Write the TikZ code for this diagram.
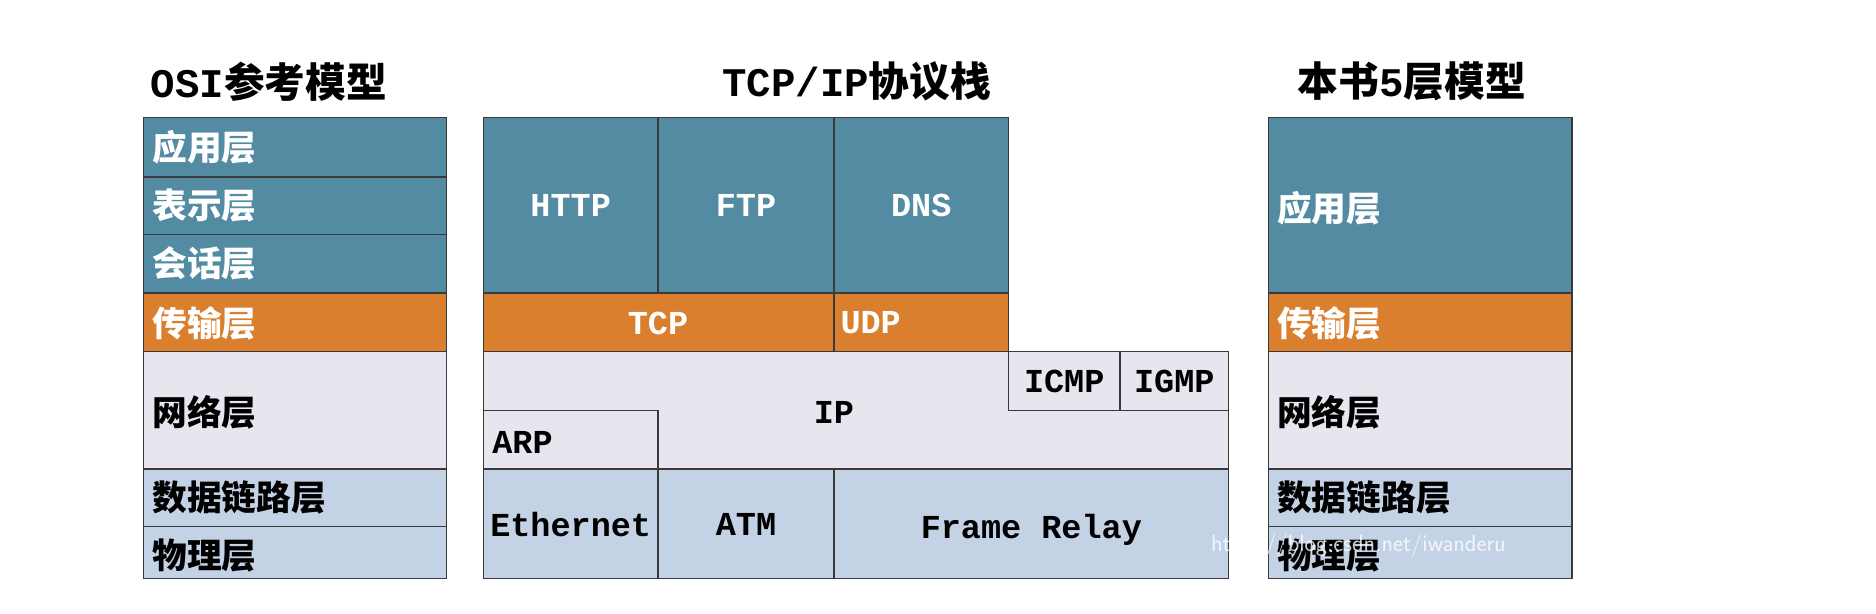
\documentclass[tikz,border=0pt]{standalone}
\usepackage{fontspec}
\setmainfont{Liberation Mono}
\newfontfamily\cjk{Noto Sans CJK SC}
\definecolor{teal}{HTML}{528BA2}
\definecolor{orng}{HTML}{D97F2E}
\definecolor{lav}{HTML}{E8E5EE}
\definecolor{lblue}{HTML}{C4D2E6}
\definecolor{edge}{HTML}{3A3A3A}
\tikzset{
  cell/.style={draw=edge,line width=1.2pt,inner sep=0pt},
  lbl/.style={font=\fontsize{28}{30}\selectfont\bfseries},
  clbl/.style={font=\cjk\fontsize{29}{32}\selectfont\bfseries},
  title/.style={font=\fontsize{34}{36}\selectfont\bfseries},
}
% \mycell{name}{x1}{y1}{x2}{y2}{fill}
\newcommand{\mycell}[6]{\path[cell,fill=#6] (#2pt,-#3pt) rectangle (#4pt,-#5pt);
  \coordinate (#1-nw) at (#2pt,-#3pt); \coordinate (#1-c) at ({(#2+#4)/2*1pt},{-(#3+#5)/2*1pt});}
\begin{document}
\begin{tikzpicture}
\useasboundingbox[fill=white] (0,0) rectangle (1568pt,-513pt);
% titles
\node[title,anchor=west,inner sep=0pt] (t1) at (126pt,-68pt) {OSI{\cjk 参考模型}};
\node[title,inner sep=0pt] (t2) at (716pt,-68pt) {TCP/IP{\cjk 协议栈}};
\node[title,inner sep=0pt] (t3) at (1180pt,-68pt) {{\cjk 本书}5{\cjk 层模型}};
% OSI
\mycell{o1}{120}{98}{373}{148}{teal}
\mycell{o2}{120}{148}{373}{196}{teal}
\mycell{o3}{120}{196}{373}{245}{teal}
\mycell{o4}{120}{245}{373}{294}{orng}
\mycell{o5}{120}{294}{373}{392}{lav}
\mycell{o6}{120}{392}{373}{440}{lblue}
\mycell{o7}{120}{440}{373}{484}{lblue}
\foreach \n/\y/\t/\c in {n1/123/应用层/white,n2/172/表示层/white,n3/220/会话层/white,n4/270/传输层/white,n5/345/网络层/black,n6/416/数据链路层/black,n7/464/物理层/black}
  \node[clbl,text=\c,anchor=west] (\n) at (124pt,-\y pt) {\t};
% TCP/IP
\mycell{http}{404}{98}{550}{245}{teal}
\mycell{ftp}{550}{98}{697}{245}{teal}
\mycell{dns}{697}{98}{843}{245}{teal}
\mycell{tcp}{404}{245}{697}{294}{orng}
\mycell{udp}{697}{245}{843}{294}{orng}
\path[cell,fill=lav] (404pt,-294pt) -- (1027pt,-294pt) -- (1027pt,-392pt) -- (404pt,-392pt) -- cycle;
\mycell{icmp}{843}{294}{936}{343}{lav}
\mycell{igmp}{936}{294}{1027}{343}{lav}
\mycell{arp}{404}{343}{550}{392}{lav}
\mycell{eth}{404}{392}{550}{484}{lblue}
\mycell{atm}{550}{392}{697}{484}{lblue}
\mycell{fr}{697}{392}{1027}{484}{lblue}
\node[lbl,text=white] (lh) at (http-c) {HTTP};
\node[lbl,text=white] (lf) at (ftp-c) {FTP};
\node[lbl,text=white] (ld) at (dns-c) {DNS};
\node[lbl,text=white] (lt) at (550pt,-270pt) {TCP};
\node[lbl,text=white,anchor=west] (lu) at (699pt,-270pt) {UDP};
\node[lbl] (lip) at (697pt,-345pt) {IP};
\node[lbl] (lic) at (icmp-c) {ICMP};
\node[lbl] (lig) at (igmp-c) {IGMP};
\node[lbl,anchor=west] (la) at (408pt,-370pt) {ARP};
\node[lbl] (le) at (eth-c) {Ethernet};
\node[lbl] (lat) at (atm-c) {ATM};
\node[lbl] (lfr) at (862pt,-443pt) {Frame Relay};
% 5 layer
\mycell{r1}{1060}{98}{1314}{245}{teal}
\mycell{r2}{1060}{245}{1314}{294}{orng}
\mycell{r3}{1060}{294}{1314}{392}{lav}
\mycell{r4}{1060}{392}{1314}{440}{lblue}
\mycell{r5}{1060}{440}{1314}{484}{lblue}
\foreach \n/\y/\t/\c in {m1/174/应用层/white,m2/270/传输层/white,m3/345/网络层/black,m4/416/数据链路层/black,m5/464/物理层/black}
  \node[clbl,text=\c,anchor=west] (\n) at (1064pt,-\y pt) {\t};
% cut-off bottom
\fill[white] (100pt,-484pt) rectangle (1340pt,-513pt);
\node[font=\sffamily\fontsize{20}{22}\selectfont,text=white,opacity=0.8,anchor=west,inner sep=0pt] (wm) at (1012pt,-456pt) {https://blog.csdn.net/iwanderu};
\end{tikzpicture}
\end{document}
